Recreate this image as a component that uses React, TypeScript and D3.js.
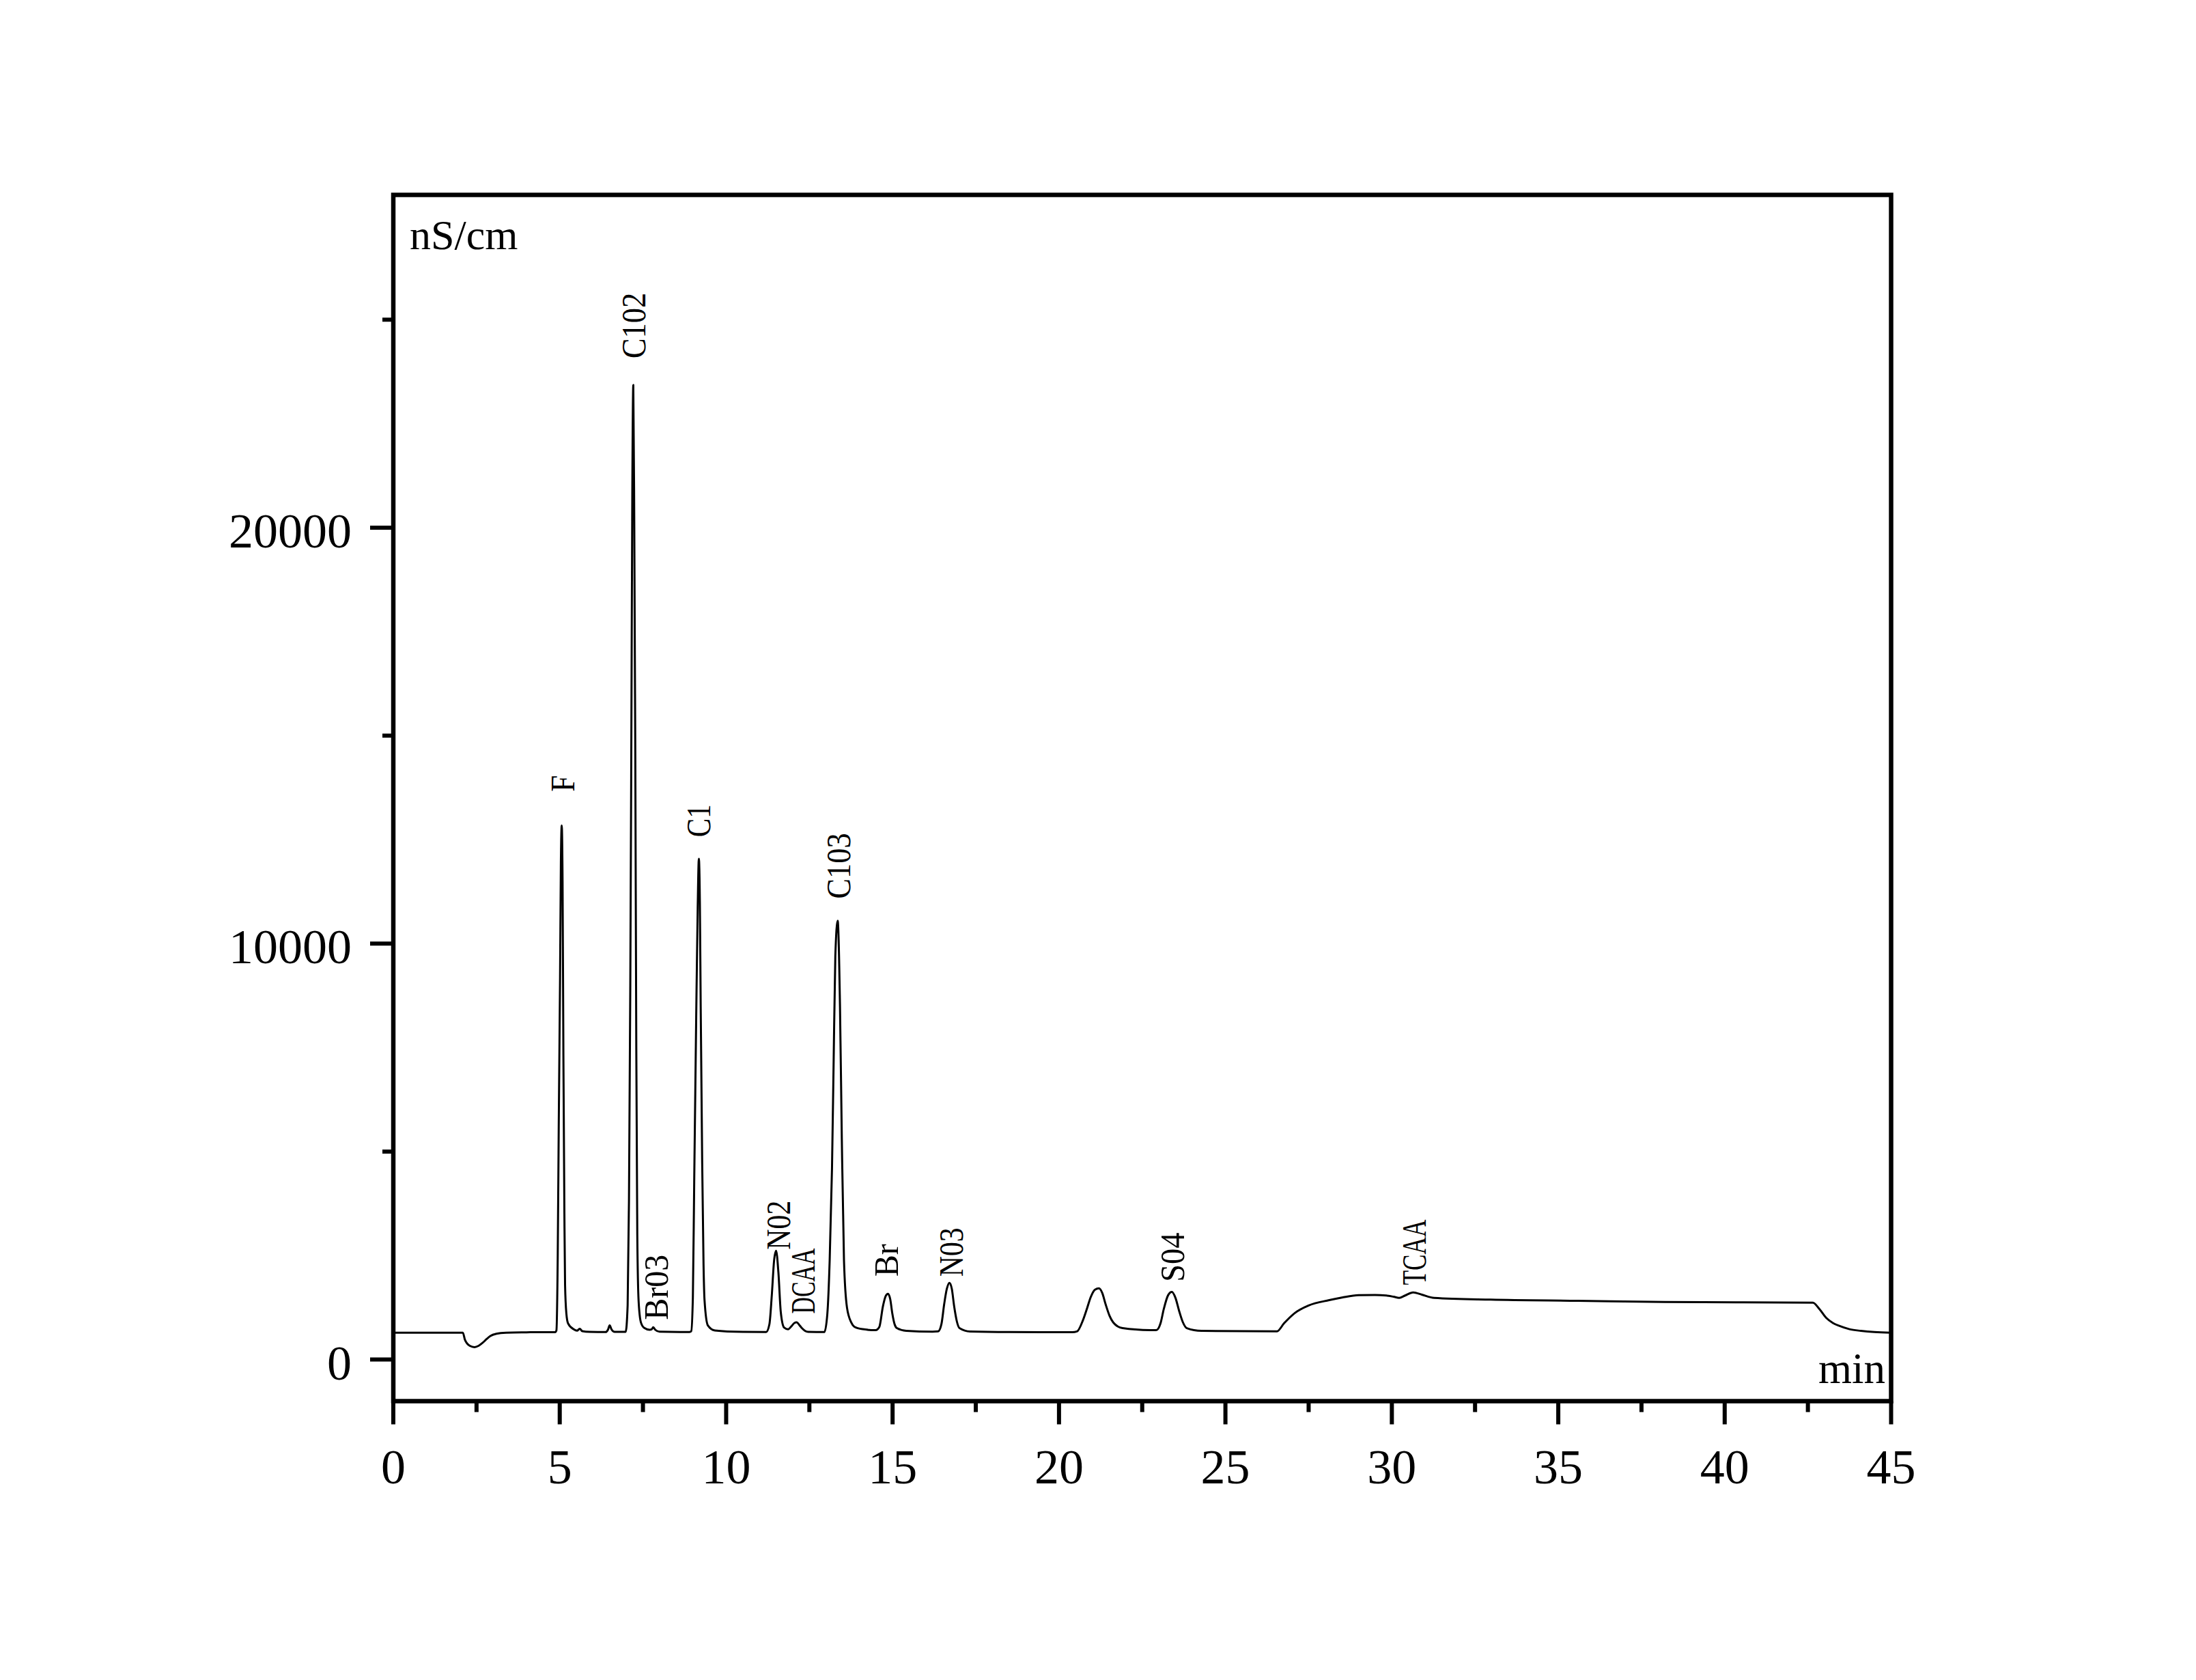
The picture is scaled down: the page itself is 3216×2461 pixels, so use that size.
import React from 'react';
import * as d3 from 'd3';

// Chromatogram trace: [time (min), signal (nS/cm)]
const trace: [number, number][] = [
  [0, 645], [2.09, 645], [2.15, 480], [2.3, 330], [2.44, 298], [2.56, 330], [2.68, 400], [2.8, 490],
  [2.91, 563], [3.1, 620], [3.39, 645], [4.0, 655], [4.86, 658],
  // F
  [4.9, 700], [4.94, 2500], [4.97, 5600], [5.01, 9200], [5.035, 12000], [5.06, 12840], [5.085, 11500],
  [5.11, 7300], [5.14, 3500], [5.16, 1800], [5.2, 1100], [5.25, 870], [5.42, 727], [5.52, 695],
  [5.6, 740], [5.68, 682], [5.9, 665], [6.38, 660], [6.45, 720], [6.5, 820], [6.56, 720], [6.65, 665], [6.98, 665],
  // ClO2
  [7.04, 1300], [7.08, 3800], [7.12, 9000], [7.15, 14600], [7.18, 20800], [7.21, 23430], [7.24, 20000],
  [7.27, 14600], [7.3, 7500], [7.33, 3000], [7.37, 1400], [7.44, 890], [7.54, 760], [7.7, 715],
  // BrO3
  [7.76, 725], [7.81, 775], [7.87, 715], [8.0, 668], [8.9, 662],
  // Cl
  [8.95, 680], [9.0, 1500], [9.04, 4260], [9.1, 8230], [9.145, 10860], [9.18, 12040], [9.21, 11000],
  [9.235, 8500], [9.28, 4730], [9.32, 2300], [9.35, 1430], [9.45, 820], [9.66, 700], [10.5, 665], [11.2, 660],
  // NO2 / DCAA
  [11.3, 850], [11.37, 1530], [11.44, 2380], [11.5, 2615], [11.57, 2090], [11.64, 1150], [11.74, 770],
  [11.86, 728], [11.96, 800], [12.05, 880], [12.12, 895], [12.19, 840], [12.27, 760], [12.46, 665], [12.95, 660],
  // ClO3
  [13.04, 1100], [13.11, 2380], [13.18, 4600], [13.23, 7200], [13.28, 9700], [13.35, 10550], [13.42, 8500],
  [13.475, 5300], [13.54, 2380], [13.63, 1250], [13.76, 890], [13.85, 790], [14.1, 730], [14.49, 706],
  // Br
  [14.6, 780], [14.71, 1280], [14.79, 1520], [14.86, 1580], [14.93, 1450], [14.99, 1117], [15.06, 850],
  [15.13, 755], [15.41, 690], [16.2, 670],
  // NO3
  [16.37, 678], [16.47, 860], [16.55, 1330], [16.63, 1700], [16.71, 1845], [16.78, 1700], [16.85, 1280],
  [16.93, 920], [17.01, 755], [17.33, 673], [18.5, 660], [20.4, 657],
  // unlabeled peak
  [20.54, 675], [20.72, 947], [20.85, 1250], [20.95, 1494], [21.08, 1680], [21.2, 1713], [21.3, 1600],
  [21.4, 1330], [21.52, 1050], [21.63, 892], [21.91, 755], [22.74, 706],
  // SO4
  [22.92, 705], [23.05, 870], [23.15, 1220], [23.28, 1550], [23.39, 1625], [23.5, 1480], [23.61, 1166],
  [23.72, 900], [23.84, 755], [24.28, 690], [26.55, 680],
  // gradient hump / TCAA
  [26.76, 870], [27.08, 1116], [27.5, 1300], [28.12, 1428], [28.5, 1490], [29.0, 1549], [29.5, 1552],
  [29.83, 1538], [30.05, 1510], [30.22, 1483], [30.4, 1540], [30.64, 1614], [30.9, 1560], [31.27, 1483],
  [32.97, 1440], [35.58, 1413], [38.2, 1385], [40.56, 1374], [42.65, 1368], [42.84, 1220], [43.05, 1002],
  [43.25, 880], [43.44, 810], [43.75, 730], [44.09, 690], [44.5, 660], [45, 646],
];

const peakNames = ['F', 'C102', 'Br03', 'C1', 'N02', 'DCAA', 'C103', 'Br', 'N03', 'S04', 'TCAA'];
const peakLabelTimes = [5.07, 7.22, 7.88, 9.16, 11.57, 12.29, 13.37, 14.81, 16.75, 23.4, 30.65];
const peakLabelValues = [13650, 24070, 950, 12560, 2640, 1100, 11080, 1990, 1990, 1870, 1790];

const xMajorTicks = [0, 5, 10, 15, 20, 25, 30, 35, 40, 45];
const xMinorTicks = [2.5, 7.5, 12.5, 17.5, 22.5, 27.5, 32.5, 37.5, 42.5];
const yMajorTicks = [0, 10000, 20000];
const yMinorTicks = [5000, 15000, 25000];

const xDomain = [0, 45];
const yDomain = [-1000, 28000];

const W = 3216;
const H = 2461;
const FONT = "'Liberation Serif', 'Times New Roman', serif";

export default function App() {
  const x = d3.scaleLinear().domain(xDomain).range([576, 2769.5]);
  const y = d3.scaleLinear().domain(yDomain).range([2052.5, 285.5]);
  const line = d3
    .line<[number, number]>()
    .x((d) => x(d[0]))
    .y((d) => y(d[1]))
    .curve(d3.curveMonotoneX);

  const left = x(xDomain[0]);
  const right = x(xDomain[1]);
  const top = y(yDomain[1]);
  const bottom = y(yDomain[0]);

  return (
    <svg
      width={W}
      height={H}
      viewBox={`0 0 ${W} ${H}`}
      style={{ position: 'absolute', left: 0, top: 0, background: '#fff' }}
    >
      <rect x={0} y={0} width={W} height={H} fill="#fff" />
      <path d={line(trace) || ''} fill="none" stroke="#000" strokeWidth={3} strokeLinejoin="round" />

      {/* ticks */}
      {xMajorTicks.map((t) => (
        <line key={'xM' + t} x1={x(t)} x2={x(t)} y1={bottom} y2={bottom + 34} stroke="#000" strokeWidth={6} />
      ))}
      {xMinorTicks.map((t) => (
        <line key={'xm' + t} x1={x(t)} x2={x(t)} y1={bottom} y2={bottom + 16} stroke="#000" strokeWidth={6} />
      ))}
      {yMajorTicks.map((t) => (
        <line key={'yM' + t} x1={left - 34} x2={left} y1={y(t)} y2={y(t)} stroke="#000" strokeWidth={6} />
      ))}
      {yMinorTicks.map((t) => (
        <line key={'ym' + t} x1={left - 16} x2={left} y1={y(t)} y2={y(t)} stroke="#000" strokeWidth={6} />
      ))}

      {/* frame */}
      <rect
        x={left}
        y={top}
        width={right - left}
        height={bottom - top}
        fill="none"
        stroke="#000"
        strokeWidth={6.5}
      />

      {/* tick labels */}
      {xMajorTicks.map((t) => (
        <text key={'xl' + t} x={x(t)} y={2173} textAnchor="middle" fontFamily={FONT} fontSize={72} fill="#000">
          {t}
        </text>
      ))}
      {yMajorTicks.map((t) => (
        <text key={'yl' + t} x={515} y={y(t) + 29} textAnchor="end" fontFamily={FONT} fontSize={72} fill="#000">
          {t}
        </text>
      ))}

      {/* axis unit labels */}
      <text x={600} y={365} fontFamily={FONT} fontSize={62} fill="#000">
        nS/cm
      </text>
      <text x={2761} y={2026} textAnchor="end" fontFamily={FONT} fontSize={63} fill="#000">
        min
      </text>

      {/* peak labels */}
      {peakNames.map((name, i) => (
        <text
          key={'pk' + i}
          transform={`translate(${x(peakLabelTimes[i])},${y(peakLabelValues[i])}) rotate(-90)`}
          dy="0.35em"
          fontFamily={FONT}
          fontSize={50}
          fill="#000"
          textLength={name.length * 24}
          lengthAdjust="spacingAndGlyphs"
        >
          {name}
        </text>
      ))}
    </svg>
  );
}
